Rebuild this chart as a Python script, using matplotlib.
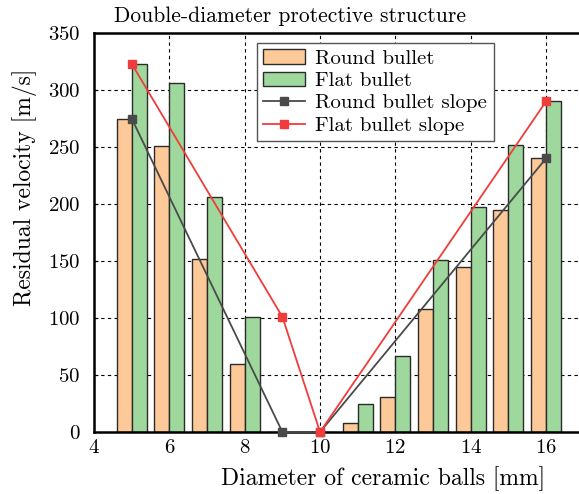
import numpy as np
import matplotlib
matplotlib.use("Agg")
import matplotlib.pyplot as plt

plt.rcParams["font.family"] = "serif"
plt.rcParams["font.serif"] = ["cmr10"]
plt.rcParams["mathtext.fontset"] = "cm"
plt.rcParams["axes.formatter.use_mathtext"] = True
plt.rcParams["font.size"] = 15

# ball diameters [mm]
diameters = [5, 6, 7, 8, 9, 10, 11, 12, 13, 14, 15, 16]
round_vel = [275, 251, 152, 60, 0, 0, 8, 31, 108, 145, 195, 240]
flat_vel = [323, 306, 206, 101, 0, 0, 25, 67, 151, 197, 252, 290]

# slope lines through selected points
round_slope_x = [5, 9, 10, 16]
round_slope_y = [275, 0, 0, 240]
flat_slope_x = [5, 9, 10, 16]
flat_slope_y = [323, 101, 0, 290]

xticks = [4, 6, 8, 10, 12, 14, 16]
yticks = [0, 50, 100, 150, 200, 250, 300, 350]

fig = plt.figure(figsize=(5.79, 4.94), dpi=100)
ax = fig.add_axes([0.1624, 0.1255, 0.8458, 0.8077])

w = 0.4
x = np.array(diameters)
b1 = ax.bar(x - w, round_vel, width=w, align="edge", color="#FDC998",
            edgecolor="#2b2b2b", linewidth=1.0, label="Round bullet", zorder=2)
b2 = ax.bar(x, flat_vel, width=w, align="edge", color="#9FD89D",
            edgecolor="#2b2b2b", linewidth=1.0, label="Flat bullet", zorder=2)

l1, = ax.plot(round_slope_x, round_slope_y, color="#4a4a4a", lw=1.3, marker="s",
              ms=6, label="Round bullet slope", zorder=3, clip_on=False)
l2, = ax.plot(flat_slope_x, flat_slope_y, color="#f03c3c", lw=1.3, marker="s",
              ms=6, label="Flat bullet slope", zorder=4, clip_on=False)

ax.set_xlim(4, 17)
ax.set_ylim(0, 350)
ax.set_xticks(xticks)
ax.set_yticks(yticks)
ax.tick_params(direction="in", length=3, width=0.8, pad=5, labelsize=15)
ax.tick_params(axis="y", pad=10)
ax.grid(True, color="black", linestyle=(0, (3, 3)), linewidth=0.8, zorder=0)
ax.set_axisbelow(True)
for s in ["left", "bottom", "top", "right"]:
    ax.spines[s].set_linewidth(1.8)

fig.text(0.5, 0.968, "Double-diameter protective structure", ha="center",
         va="center", fontsize=15.5)
fig.text(0.662, 0.032, "Diameter of ceramic balls [mm]", ha="center",
         va="center", fontsize=17)
fig.text(0.043, 0.620, "Residual velocity [m/s]", ha="center", va="center",
         rotation=90, fontsize=17)

leg = ax.legend([b1, b2, l1, l2],
                ["Round bullet", "Flat bullet", "Round bullet slope", "Flat bullet slope"],
                loc="upper left", bbox_to_anchor=(0.444, 0.913),
                bbox_transform=fig.transFigure, fancybox=False, framealpha=1,
                edgecolor="#555555", borderaxespad=0, handlelength=2.0,
                labelspacing=0.18, borderpad=0.3, handletextpad=0.5,
                fontsize=15)
leg.get_frame().set_linewidth(1.0)

fig.savefig("out.png", dpi=100)
